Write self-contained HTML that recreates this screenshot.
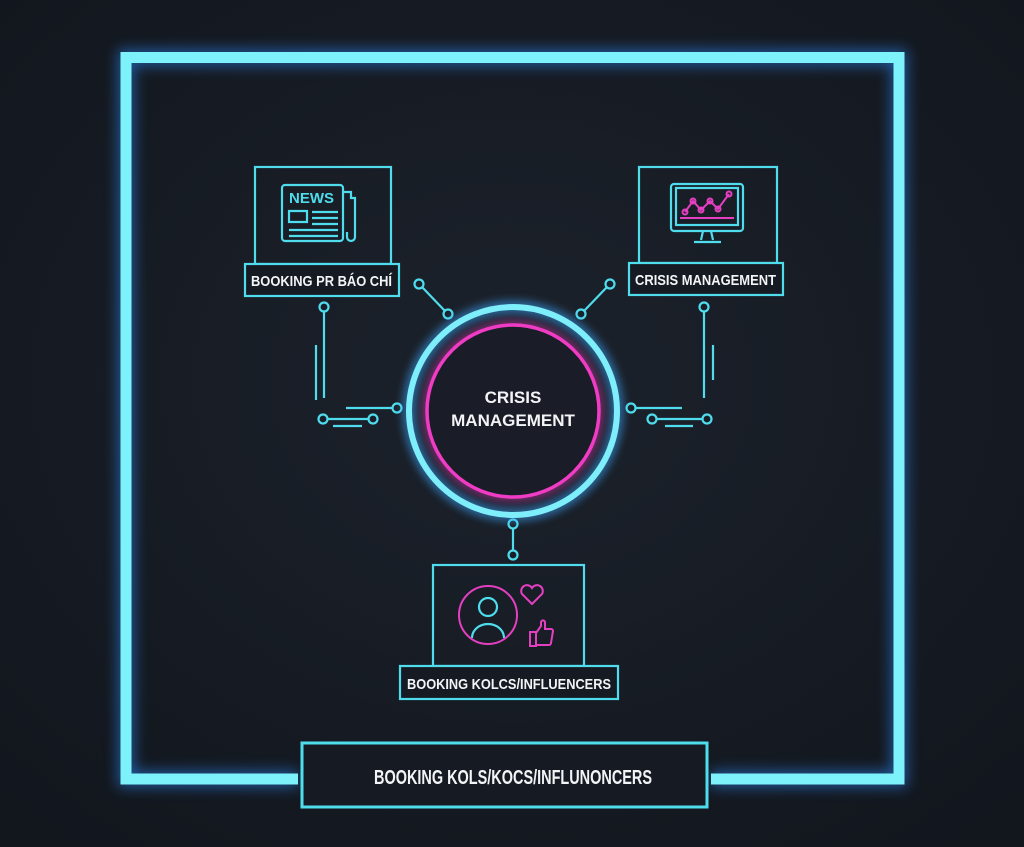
<!DOCTYPE html>
<html><head><meta charset="utf-8"><style>
html,body{margin:0;padding:0;background:#161b24;}
svg{display:block}
text{font-family:"Liberation Sans Narrow","Liberation Sans",sans-serif;fill:#f2f4f6;font-weight:bold}
</style></head><body>
<svg width="1024" height="847" viewBox="0 0 1024 847" xmlns="http://www.w3.org/2000/svg">
<defs>
<radialGradient id="bg" cx="50%" cy="45%" r="70%">
<stop offset="0" stop-color="#1c222c"/><stop offset="1" stop-color="#12161d"/>
</radialGradient>
<filter id="glow" x="-20%" y="-20%" width="140%" height="140%"><feGaussianBlur stdDeviation="7"/></filter>
<filter id="glow2" x="-30%" y="-30%" width="160%" height="160%"><feGaussianBlur stdDeviation="4"/></filter>
</defs>
<rect width="1024" height="847" fill="url(#bg)"/>
<!-- outer frame glow -->
<path d="M298 779 H126 V57.5 H899 V779 H711" fill="none" stroke="#2a8cff" stroke-width="16" opacity="0.55" filter="url(#glow)"/>
<path d="M298 779 H126 V57.5 H899 V779 H711" fill="none" stroke="#7ef2fb" stroke-width="11"/>
<!-- bottom label -->
<rect x="302" y="743" width="405" height="64" fill="#161b23" stroke="#4fdcec" stroke-width="3"/>
<text x="374" y="784" font-size="20" textLength="278" lengthAdjust="spacingAndGlyphs">BOOKING KOLS/KOCS/INFLUNONCERS</text>

<g fill="none" stroke="#4fdcec" stroke-width="2.2">
<!-- left card -->
<rect x="255" y="167" width="136" height="97"/>
<rect x="245" y="264" width="154" height="32" fill="#161b23"/>
<!-- right card -->
<rect x="639" y="167" width="138" height="96"/>
<rect x="629" y="263" width="154" height="32" fill="#161b23"/>
<!-- bottom card -->
<rect x="433" y="565" width="151" height="101"/>
<rect x="400" y="666" width="218" height="33" fill="#161b23"/>

<!-- newspaper icon -->
<rect x="282" y="185" width="61" height="56" rx="3"/>
<path d="M343 192 h8 v6 h4 v39 a4 4 0 0 1 -8 0 v-5"/>
<path d="M289 211 h18 v11 h-18z M312 212 h26 M312 218 h26 M312 224 h26 M289 230 h49 M289 236 h49"/>
<!-- monitor -->
<rect x="671" y="184" width="72" height="47" rx="3"/>
<rect x="676" y="188" width="62" height="37"/>
<path d="M703 231 l-2 9 M711 231 l2 9 M694 242 h27"/>
<!-- connectors -->
<circle cx="419" cy="284" r="4.5"/><circle cx="448" cy="314" r="4.5"/><path d="M422 287 L445 311"/>
<circle cx="610" cy="284" r="4.5"/><circle cx="581" cy="314" r="4.5"/><path d="M607 287 L584 311"/>
<circle cx="324" cy="307" r="4.5"/><path d="M324 312 V398 M316 345 V400"/>
<circle cx="397" cy="408" r="4.5"/><path d="M392 408 H346"/>
<circle cx="323" cy="419" r="4.5"/><circle cx="373" cy="419" r="4.5"/><path d="M328 419 H368 M333 426 H362"/>
<circle cx="704" cy="307" r="4.5"/><path d="M704 312 V398 M713 345 V380"/>
<circle cx="631" cy="408" r="4.5"/><path d="M636 408 H682"/>
<circle cx="652" cy="419" r="4.5"/><circle cx="707" cy="419" r="4.5"/><path d="M657 419 H702 M665 426 H693"/>
<circle cx="513" cy="524" r="4.5"/><circle cx="513" cy="555" r="4.5"/><path d="M513 529 V550"/>
<!-- person -->
<circle cx="488" cy="607" r="9"/>
<path d="M472 638 a16 14 0 0 1 32 0"/>
</g>
<!-- chart -->
<g fill="none" stroke="#e43fc0" stroke-width="2">
<path d="M685 212 L693 201 L701 210 L710 201 L718 209 L729 194"/>
<circle cx="685" cy="212" r="2.5"/><circle cx="693" cy="201" r="2.5"/><circle cx="701" cy="210" r="2.5"/><circle cx="710" cy="201" r="2.5"/><circle cx="718" cy="209" r="2.5"/><circle cx="729" cy="194" r="2.5"/>
<path d="M680 218 H734"/>
<!-- person ring, heart, thumbs -->
<circle cx="488" cy="615" r="29"/>
<path d="M532 604 l-10 -10 a5.5 5.5 0 0 1 10 -6 a5.5 5.5 0 0 1 10 6 z"/>
<path d="M530 632 h6 v14 h-6z M536 633 l5 -7 v-4 a2 2 0 0 1 4 1 v6 h6 a2 2 0 0 1 2 2 l-2 12 a2 2 0 0 1 -2 2 h-13"/>
</g>
<!-- central circle -->
<circle cx="513" cy="411" r="104" fill="none" stroke="#3aa8ff" stroke-width="14" opacity="0.5" filter="url(#glow2)"/>
<circle cx="513" cy="411" r="86" fill="#1a1d28" stroke="#ff3fc8" stroke-width="10" opacity="0.4" filter="url(#glow2)"/>
<circle cx="513" cy="411" r="86" fill="#1a1c27" stroke="#f03cc4" stroke-width="3.5"/>
<circle cx="513" cy="411" r="104" fill="none" stroke="#7eeefa" stroke-width="6"/>
<text x="513" y="403" font-size="17" text-anchor="middle" font-family="Liberation Sans,sans-serif">CRISIS</text>
<text x="513" y="426" font-size="17" text-anchor="middle" font-family="Liberation Sans,sans-serif">MANAGEMENT</text>
<!-- newspaper title -->
<text x="289" y="203" font-size="15" fill="#4fdcec" style="fill:#4fdcec">NEWS</text>
<!-- labels -->
<text x="251" y="286" font-size="15" textLength="141" lengthAdjust="spacingAndGlyphs">BOOKING PR BÁO CHÍ</text>
<text x="635" y="285" font-size="15" textLength="141" lengthAdjust="spacingAndGlyphs">CRISIS MANAGEMENT</text>
<text x="407" y="689" font-size="15" textLength="204" lengthAdjust="spacingAndGlyphs">BOOKING KOLCS/INFLUENCERS</text>
</svg>
</body></html>
